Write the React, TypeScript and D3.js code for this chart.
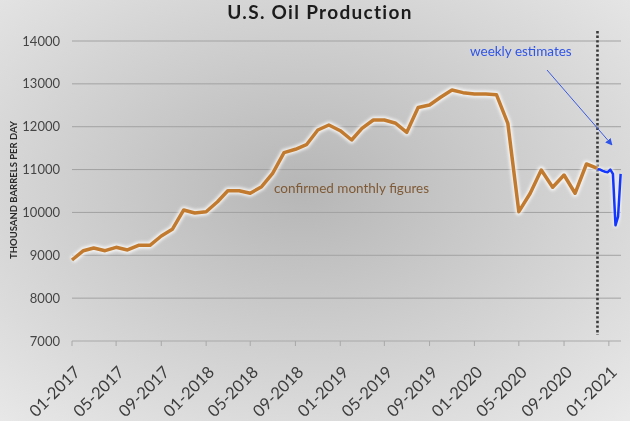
import * as d3 from 'd3';

// monthly production, thousand barrels per day, 01-2017 .. 12-2020
const monthlyStart = new Date(2017, 0, 1);
const monthlyValues = [
  8890, 9107, 9170, 9107, 9186, 9124, 9233, 9233, 9450, 9606, 10057, 9986,
  10017, 10250, 10507, 10507, 10447, 10600, 10913, 11394, 11474, 11580, 11923, 12040,
  11907, 11690, 11963, 12157, 12157, 12080, 11870, 12450, 12507, 12687, 12857, 12795,
  12763, 12763, 12747, 12080, 10017, 10447, 10990, 10587, 10873, 10447, 11130, 11030,
];

// weekly estimates
const weeklyDates = [
  '2020-12-01', '2020-12-08', '2020-12-15', '2020-12-22', '2020-12-29',
  '2021-01-05', '2021-01-12', '2021-01-19', '2021-01-26', '2021-02-02',
];
const weeklyValues = [11010, 11000, 10970, 10950, 10940, 11000, 10900, 9700, 9900, 10900];

const yTicks = [7000, 8000, 9000, 10000, 11000, 12000, 13000, 14000];

const parse = d3.timeParse('%Y-%m-%d');
const fmt = d3.timeFormat('%m-%Y');

export default function App() {
  const x = d3.scaleTime()
    .domain([new Date(2017, 0, 1), new Date(2021, 1, 3)])
    .range([72, 621]);
  const y = d3.scaleLinear().domain([7000, 14000]).range([341, 41]);

  const months = monthlyValues.map((v, i) => ({ d: d3.timeMonth.offset(monthlyStart, i), v }));
  const weeks = weeklyValues.map((v, i) => ({ d: parse(weeklyDates[i]) as Date, v }));

  const line = d3.line<{ d: Date; v: number }>()
    .x(p => x(p.d))
    .y(p => y(p.v));

  const xTicks = d3.timeMonth.every(4)!.range(new Date(2017, 0, 1), new Date(2021, 0, 2));
  const splitX = x(new Date(2020, 11, 1));

  return (
    <svg width={630} height={421} style={{ position: 'fixed', left: 0, top: 0, display: 'block' }}
      fontFamily="Lato, 'Open Sans', sans-serif">
      <defs>
        <radialGradient id="bg" cx="48%" cy="45%" r="75%">
          <stop offset="0%" stopColor="#b6b6b6" />
          <stop offset="100%" stopColor="#e9e9e9" />
        </radialGradient>
        <filter id="glow" x="-5%" y="-5%" width="110%" height="110%">
          <feGaussianBlur stdDeviation="1.6" />
        </filter>
        <marker id="arr" viewBox="0 0 10 10" refX="9" refY="5" markerWidth="7" markerHeight="7" orient="auto">
          <path d="M0,0 L10,5 L0,10 z" fill="#2f54e8" />
        </marker>
      </defs>
      <rect width={630} height={421} fill="url(#bg)" />

      <text x={320} y={19} textAnchor="middle" fontSize={19} fontWeight="bold" fill="#1c1c1c"
        letterSpacing="1.3">U.S. Oil Production</text>

      {yTicks.map(t => (
        <g key={t}>
          {t > 7000 && <line x1={72} x2={621} y1={y(t)} y2={y(t)} stroke="#a2a2a2" strokeWidth={1} />}
          <text x={60} y={y(t)} dy="0.35em" textAnchor="end" fontSize={13} fill="#454545">{t}</text>
        </g>
      ))}

      <line x1={72} x2={621} y1={y(7000)} y2={y(7000)} stroke="#a8a8a8" strokeWidth={1} />
      {xTicks.map(t => (
        <g key={+t} transform={`translate(${x(t)},${y(7000)})`}>
          <line y1={0} y2={5} stroke="#a8a8a8" />
          <text transform="translate(1,24) rotate(-45)" textAnchor="end" dy="0.7em" fontSize={16.5}
            fill="#3c3c3c">{fmt(t)}</text>
        </g>
      ))}

      <text transform={`translate(17,190) rotate(-90)`} textAnchor="middle" fontSize={9.5} fontWeight="bold"
        fill="#2a2a2a">THOUSAND BARRELS PER DAY</text>

      <line x1={splitX} x2={splitX} y1={31} y2={335} stroke="#3a3a3a" strokeWidth={2.6} strokeDasharray="2.4,2.2" />

      <path d={line(months)!} fill="none" stroke="#ffffff" strokeOpacity={0.8} strokeWidth={7}
        strokeLinejoin="round" filter="url(#glow)" />
      <path d={line(months)!} fill="none" stroke="#c27a2e" strokeWidth={3.5} strokeLinejoin="round" />

      <path d={line(weeks)!} fill="none" stroke="#ffffff" strokeOpacity={0.6} strokeWidth={5}
        strokeLinejoin="round" filter="url(#glow)" />
      <path d={line(weeks)!} fill="none" stroke="#1437ff" strokeWidth={2.5} strokeLinejoin="round" />

      <text x={274} y={193} fontSize={13.5} fill="#7f5a36">confirmed monthly figures</text>
      <text x={470} y={56} fontSize={13.5} fill="#2f54e8">weekly estimates</text>
      <line x1={547} y1={70} x2={612} y2={145} stroke="#3a5ae0" strokeWidth={1} markerEnd="url(#arr)" />
    </svg>
  );
}
